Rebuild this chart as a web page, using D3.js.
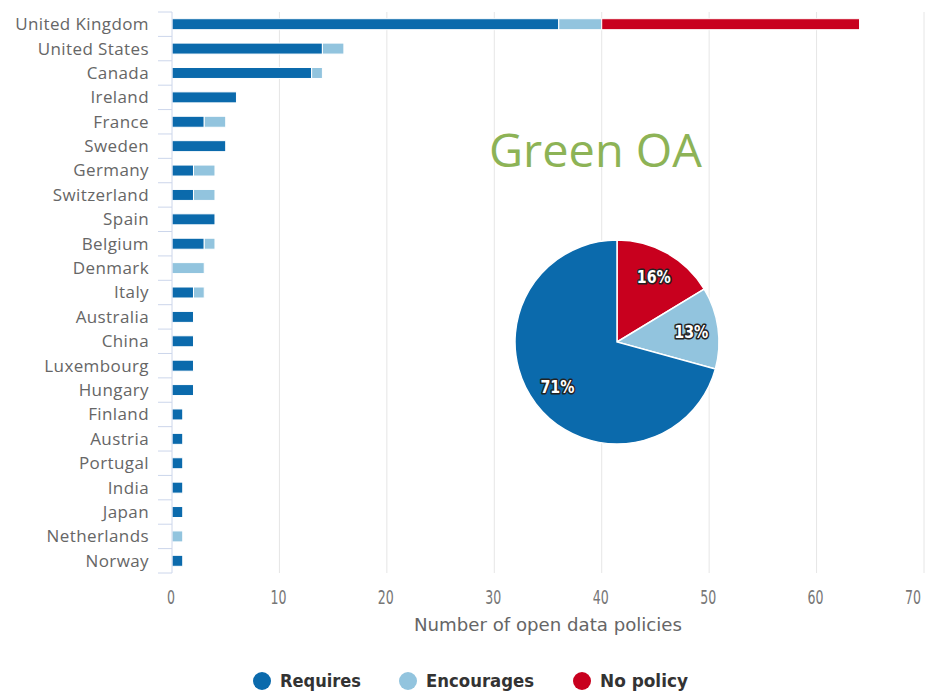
<!DOCTYPE html>
<html>
<head>
<meta charset="utf-8">
<script src="https://cdn.jsdelivr.net/npm/d3@7"></script>
<style>
  body { margin: 0; background: #fff; }
  svg text { font-family: "Open Sans", sans-serif; }
</style>
</head>
<body>
<svg id="chart" width="927" height="692"></svg>
<script>
// DATA
var countries = ["United Kingdom", "United States", "Canada", "Ireland", "France", "Sweden",
  "Germany", "Switzerland", "Spain", "Belgium", "Denmark", "Italy", "Australia", "China",
  "Luxembourg", "Hungary", "Finland", "Austria", "Portugal", "India", "Japan", "Netherlands", "Norway"];
var requires   = [36, 14, 13, 6, 3, 5, 2, 2, 4, 3, 0, 2, 2, 2, 2, 2, 1, 1, 1, 1, 1, 0, 1];
var encourages = [4, 2, 1, 0, 2, 0, 2, 2, 0, 1, 3, 1, 0, 0, 0, 0, 0, 0, 0, 0, 0, 1, 0];
var noPolicy   = [24, 0, 0, 0, 0, 0, 0, 0, 0, 0, 0, 0, 0, 0, 0, 0, 0, 0, 0, 0, 0, 0, 0];
var seriesNames = ["Requires", "Encourages", "No policy"];
var xTicks = [0, 10, 20, 30, 40, 50, 60, 70];
var pieLabels = ["16%", "13%", "71%"];

var colors = {"Requires": "#0b6aac", "Encourages": "#92c4de", "No policy": "#c8001e"};
var narrow = "'Liberation Sans Narrow', 'DejaVu Sans Condensed', 'Open Sans', sans-serif";

var svg = d3.select("#chart");
var margin = {top: 12, right: 3, bottom: 119, left: 172};
var width = 927 - margin.left - margin.right,
    height = 692 - margin.top - margin.bottom;

var g = svg.append("g").attr("transform", "translate(" + margin.left + "," + margin.top + ")");

var x = d3.scaleLinear().domain([0, 70]).range([0, 752]);
var y = d3.scaleBand().domain(countries).range([0, height]).paddingInner(0.55).paddingOuter(0.275);

// gridlines
g.selectAll(".grid").data(xTicks.slice(1)).enter().append("line")
  .attr("x1", d => x(d)).attr("x2", d => x(d))
  .attr("y1", 0).attr("y2", height)
  .attr("stroke", "#e6e6e6").attr("stroke-width", 1);

// x tick labels (last one pulled in so it stays on the page)
g.selectAll(".xt").data(xTicks).enter().append("text")
  .attr("x", d => d === 70 ? x(d) - 11 : x(d) - 1).attr("y", height + 31)
  .attr("text-anchor", "middle")
  .style("font-family", narrow)
  .style("font-size", "19px").attr("fill", "#777")
  .attr("textLength", d => String(d).length * 8)
  .attr("lengthAdjust", "spacingAndGlyphs")
  .text(d => d);

g.append("text")
  .attr("x", x(35)).attr("y", height + 58)
  .attr("text-anchor", "middle")
  .style("font-family", narrow)
  .style("font-size", "18px").attr("fill", "#666")
  .attr("textLength", 268).attr("lengthAdjust", "spacingAndGlyphs")
  .text("Number of open data policies");

// stacked bars
var table = countries.map(function(c, i) {
  return {country: c, "Requires": requires[i], "Encourages": encourages[i], "No policy": noPolicy[i]};
});
var stacked = d3.stack().keys(seriesNames)(table);

g.selectAll(".series").data(stacked).enter().append("g")
  .attr("fill", d => colors[d.key])
  .selectAll("rect").data(d => d.filter(s => s[1] > s[0])).enter().append("rect")
    .attr("x", d => x(d[0]))
    .attr("y", d => y(d.data.country))
    .attr("width", d => x(d[1]) - x(d[0]))
    .attr("height", y.bandwidth())
    .attr("stroke", "#fff").attr("stroke-width", 1);

// left axis line and category ticks
var step = y.step();
g.append("line").attr("x1", 0).attr("x2", 0).attr("y1", 0).attr("y2", height)
  .attr("stroke", "#ccd6eb");
g.selectAll(".ytick").data(d3.range(countries.length + 1)).enter().append("line")
  .attr("x1", -14).attr("x2", 0)
  .attr("y1", d => d * step).attr("y2", d => d * step)
  .attr("stroke", "#ccd6eb");

g.selectAll(".ylab").data(countries).enter().append("text")
  .attr("x", -23).attr("y", d => y(d) + y.bandwidth() / 2)
  .attr("dy", "0.35em")
  .attr("text-anchor", "end")
  .style("font-size", "17px").style("letter-spacing", "0.4px").attr("fill", "#666")
  .text(d => d);

// Green OA title
svg.append("text")
  .attr("x", 489).attr("y", 167)
  .style("font-size", "45px").attr("fill", "#8db356")
  .attr("textLength", 213).attr("lengthAdjust", "spacingAndGlyphs")
  .text("Green OA");

// pie
var pieData = [d3.sum(noPolicy), d3.sum(encourages), d3.sum(requires)];
var pieKeys = ["No policy", "Encourages", "Requires"];
var pie = d3.pie().sort(null)(pieData);
var arc = d3.arc().innerRadius(0).outerRadius(102);
var labelArc = d3.arc().innerRadius(75).outerRadius(75);

var pg = svg.append("g").attr("transform", "translate(617,342)");
pg.selectAll("path").data(pie).enter().append("path")
  .attr("d", arc)
  .attr("fill", (d, i) => colors[pieKeys[i]])
  .attr("stroke", "#fff").attr("stroke-width", 1.5);

pg.selectAll(".pl").data(pie).enter().append("text")
  .attr("transform", d => "translate(" + labelArc.centroid(d) + ")")
  .attr("text-anchor", "middle").attr("dy", "0.35em")
  .style("font-family", narrow)
  .style("font-size", "17px").style("font-weight", "bold")
  .attr("fill", "#fff").attr("stroke", "#222").attr("stroke-width", 3)
  .attr("paint-order", "stroke").attr("stroke-linejoin", "round")
  .attr("textLength", 34).attr("lengthAdjust", "spacingAndGlyphs")
  .text((d, i) => pieLabels[i]);

// legend
var legendX = [262, 408, 582];
var legendW = [81, 108, 88];
var lg = svg.append("g");
seriesNames.forEach(function(s, i) {
  lg.append("circle").attr("cx", legendX[i]).attr("cy", 681).attr("r", 9).attr("fill", colors[s]);
  lg.append("text").attr("x", legendX[i] + 18).attr("y", 681).attr("dy", "0.35em")
    .style("font-family", narrow)
    .style("font-size", "18px").style("font-weight", "bold").attr("fill", "#333")
    .attr("textLength", legendW[i]).attr("lengthAdjust", "spacingAndGlyphs")
    .text(s);
});
</script>
</body>
</html>
